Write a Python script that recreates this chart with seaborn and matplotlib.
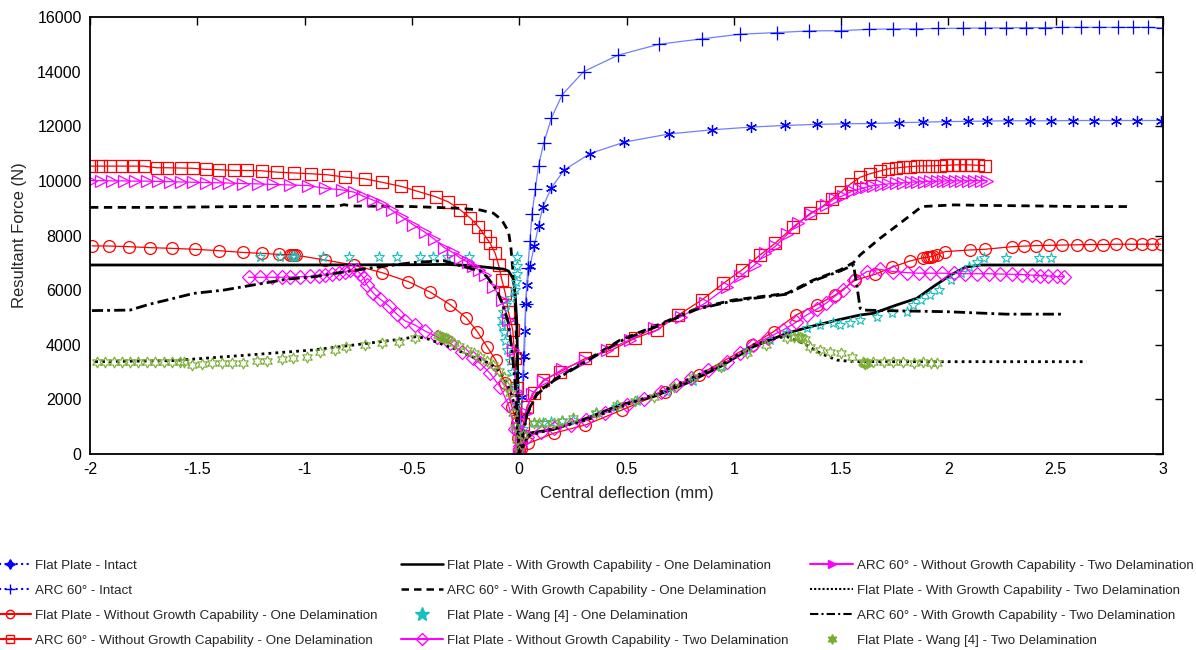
import numpy as np
import pandas as pd
import matplotlib
matplotlib.use("Agg")
import matplotlib.pyplot as plt
from matplotlib.lines import Line2D
import seaborn as sns

# ---------------- data ----------------
flat_intact_x = [0, 0.005, 0.01, 0.015, 0.02, 0.024, 0.028, 0.031, 0.036, 0.051, 0.07, 0.09, 0.11, 0.15, 0.21, 0.33, 0.49,
                 0.7, 0.9, 1.08, 1.24, 1.39, 1.52, 1.64, 1.77, 1.88, 1.99, 2.09, 2.18, 2.28, 2.38, 2.48, 2.58, 2.68, 2.78, 2.88, 2.99]
flat_intact_y = [0, 700, 1400, 2100, 2900, 3600, 4500, 5500, 6200, 6900, 7600, 8350, 9050, 9750, 10400, 11000, 11420,
                 11720, 11870, 11970, 12030, 12070, 12090, 12100, 12130, 12150, 12170, 12180, 12190, 12200, 12200, 12200,
                 12210, 12210, 12210, 12210, 12210]

arc_intact_x = [0, 0.01, 0.02, 0.03, 0.04, 0.05, 0.06, 0.075, 0.09, 0.115, 0.15, 0.2, 0.3, 0.46, 0.65, 0.85, 1.03, 1.2,
                1.35, 1.5, 1.63, 1.74, 1.85, 1.95, 2.07, 2.17, 2.27, 2.36, 2.45, 2.53, 2.62, 2.7, 2.79, 2.86, 2.93, 3.0]
arc_intact_y = [0, 1500, 3500, 5500, 6800, 7800, 8800, 9700, 10550, 11400, 12300, 13150, 14000, 14600, 15000, 15200,
                15370, 15430, 15490, 15500, 15550, 15560, 15570, 15580, 15590, 15600, 15600, 15610, 15610, 15620, 15620,
                15620, 15620, 15620, 15620, 15600]

flat_wog_one_x = [-1.99, -1.91, -1.816, -1.72, -1.62, -1.51, -1.40, -1.287, -1.2, -1.12, -1.07, -1.06, -1.05, -1.04,
                  -0.904, -0.772, -0.64, -0.516, -0.415, -0.322, -0.246, -0.195, -0.15, -0.11, -0.065, -0.034, -0.011,
                  -0.005, 0,
                  0.01, 0.043, 0.16, 0.308, 0.478, 0.68, 0.836, 1.084, 1.185, 1.29, 1.387, 1.473, 1.566, 1.659, 1.737,
                  1.822, 1.88, 1.9, 1.91, 1.92, 1.93, 1.945, 1.985, 2.1, 2.17, 2.296, 2.35, 2.41, 2.47, 2.53, 2.6, 2.66,
                  2.72, 2.78, 2.85, 2.9, 2.95, 2.99]
flat_wog_one_y = [7620, 7615, 7590, 7555, 7530, 7495, 7445, 7380, 7345, 7310, 7295, 7290, 7285, 7280, 7100, 6920, 6640,
                  6310, 5930, 5470, 4980, 4480, 3930, 3440, 2590, 1730, 1120, 600, 0,
                  200, 390, 760, 1060, 1610, 2280, 2890, 3990, 4480, 5090, 5460, 5820, 6370, 6580, 6840, 7070, 7180,
                  7200, 7215, 7225, 7240, 7300, 7410, 7470, 7495, 7590, 7610, 7630, 7640, 7650, 7660, 7670, 7670, 7680,
                  7680, 7680, 7680, 7680]

arc_wog_one_x = [-1.995, -1.95, -1.905, -1.85, -1.8, -1.75, -1.69, -1.64, -1.575, -1.52, -1.46, -1.40, -1.33, -1.27,
                 -1.2, -1.13, -1.05, -0.97, -0.89, -0.81, -0.72, -0.64, -0.55, -0.47, -0.39, -0.33, -0.275, -0.228,
                 -0.19, -0.158, -0.135, -0.112, -0.096, -0.081, -0.065, -0.05, -0.03, -0.02, -0.012, -0.006, 0,
                 0.01, 0.02, 0.036, 0.067, 0.113, 0.191, 0.308, 0.432, 0.54, 0.642, 0.742, 0.851, 0.952, 1.038, 1.123,
                 1.193, 1.278, 1.356, 1.41, 1.457, 1.5, 1.546, 1.59, 1.635, 1.68, 1.72, 1.755, 1.79, 1.82, 1.855, 1.89,
                 1.925, 1.96, 1.99, 2.02, 2.05, 2.08, 2.11, 2.14, 2.17]
arc_wog_one_y = [10540, 10540, 10540, 10540, 10540, 10540, 10480, 10480, 10470, 10460, 10420, 10410, 10380, 10380,
                 10370, 10320, 10290, 10260, 10220, 10135, 10075, 9950, 9800, 9610, 9420, 9230, 8940, 8640, 8320, 7970,
                 7710, 7350, 6920, 6380, 5890, 5200, 4540, 3500, 2400, 1200, 0,
                 600, 1100, 1730, 2220, 2710, 3010, 3500, 3810, 4240, 4540, 5090, 5640, 6250, 6740, 7290, 7715, 8320,
                 8810, 9040, 9340, 9600, 9900, 10136, 10260, 10360, 10440, 10470, 10500, 10520, 10540, 10550, 10550,
                 10560, 10570, 10580, 10590, 10590, 10580, 10570, 10560]

arc_wog_two_x = [-1.995, -1.95, -1.896, -1.843, -1.789, -1.736, -1.682, -1.629, -1.575, -1.521, -1.459, -1.405, -1.352,
                 -1.289, -1.218, -1.146, -1.066, -0.986, -0.905, -0.825, -0.771, -0.727, -0.682, -0.637, -0.593, -0.548,
                 -0.495, -0.441, -0.396, -0.35, -0.31, -0.275, -0.24, -0.213, -0.185, -0.158, -0.12, -0.081, -0.05,
                 -0.03, -0.015, -0.005, 0,
                 0.01, 0.03, 0.06, 0.113, 0.2, 0.308, 0.41, 0.516, 0.63, 0.755, 0.866, 0.97, 1.03, 1.097, 1.147, 1.193,
                 1.25, 1.3, 1.36, 1.43, 1.47, 1.51, 1.55, 1.585, 1.617, 1.65, 1.685, 1.72, 1.755, 1.79, 1.825, 1.855,
                 1.885, 1.915, 1.945, 1.975, 2.0, 2.03, 2.06, 2.09, 2.12, 2.15, 2.18]
arc_wog_two_y = [10010, 10010, 10000, 10000, 9990, 9990, 9980, 9970, 9960, 9950, 9940, 9930, 9920, 9900, 9890, 9870,
                 9850, 9830, 9730, 9670, 9590, 9440, 9300, 9150, 8920, 8690, 8400, 8130, 7870, 7560, 7380, 7180, 7020,
                 6870, 6720, 6560, 6130, 5640, 4900, 3800, 2300, 1000, 0,
                 500, 1500, 2200, 2660, 3100, 3440, 3820, 4180, 4620, 5030, 5520, 6130, 6500, 6920, 7350, 7600, 8050,
                 8440, 8800, 9120, 9350, 9460, 9620, 9700, 9770, 9830, 9860, 9890, 9910, 9930, 9950, 9960, 9970, 9980,
                 9990, 9990, 10000, 10000, 10000, 10000, 10010, 10010, 10010]

flat_wg_one_x = [-2.0, -1.0, -0.5, -0.337, -0.25, -0.18, -0.12, -0.073, -0.05, -0.042, -0.03, -0.027, -0.019, -0.011,
                 -0.005, 0,
                 0.05, 0.16, 0.315, 0.47, 0.626, 0.78, 0.937, 1.092, 1.247, 1.356, 1.48, 1.589, 1.65, 1.76, 1.853,
                 1.93, 2.01, 2.08, 2.148, 2.5, 3.0]
flat_wg_one_y = [6920, 6920, 6930, 6940, 6910, 6860, 6810, 6770, 6700, 6600, 6450, 6370, 5880, 4790, 2200, 0,
                 770, 900, 1310, 1800, 2100, 2590, 3200, 3930, 4420, 4660, 4900, 5090, 5150, 5460, 5700, 6130, 6550,
                 6840, 6920, 6920, 6920]

arc_wg_one_x = [-2.0, -1.655, -1.3, -0.85, -0.816, -0.78, -0.5, -0.29, -0.182, -0.12, -0.081, -0.05, -0.039, -0.027,
                -0.019, -0.014, -0.008, 0,
                0.036, 0.082, 0.16, 0.315, 0.47, 0.626, 0.828, 0.999, 1.123, 1.247, 1.371, 1.496, 1.558, 1.589, 1.682,
                1.775, 1.876, 2.024, 2.2, 2.428, 2.6, 2.832]
arc_wg_one_y = [9030, 9030, 9060, 9070, 9130, 9080, 9060, 9000, 8935, 8815, 8570, 8140, 7590, 6490, 5640, 4420, 2600, 0,
                1490, 2220, 2710, 3440, 4170, 4660, 5330, 5640, 5760, 5880, 6370, 6740, 7010, 7290, 7900, 8450, 9060,
                9120, 9100, 9080, 9060, 9060]

wang_one_x = [-1.21, -1.114, -1.06, -1.05, -1.044, -0.915, -0.791, -0.651, -0.57, -0.461, -0.40, -0.337, -0.236,
              -0.012, -0.01, -0.012, -0.015, -0.02, -0.04, -0.06, -0.075, -0.08, -0.078, -0.072, -0.065, -0.055, -0.045,
              -0.035, -0.025, -0.015, -0.005,
              0.02, 0.067, 0.11, 0.15, 0.2, 0.25, 0.36, 0.45, 0.55, 0.69, 0.81, 0.94, 1.06, 1.17, 1.25, 1.34, 1.4,
              1.46, 1.496, 1.54, 1.589, 1.667, 1.737, 1.807, 1.837, 1.87, 1.915, 1.954, 2.01, 2.06, 2.094, 2.133,
              2.164, 2.27, 2.42, 2.48]
wang_one_y = [7220, 7220, 7230, 7220, 7220, 7220, 7220, 7220, 7220, 7220, 7220, 7220, 7220,
              7200, 6900, 6600, 6300, 6000, 5700, 5450, 5200, 4950, 4700, 4450, 4150, 3800, 3400, 3000, 2500, 1800, 900,
              900, 1120, 1150, 1180, 1200, 1230, 1490, 1720, 1950, 2280, 2690, 3200, 3800, 4180, 4420, 4600, 4720,
              4780, 4720, 4780, 4900, 5030, 5150, 5210, 5460, 5640, 5820, 6000, 6370, 6610, 6860, 7040, 7160, 7160,
              7160, 7160]

flat_wog_two_x = [-1.261, -1.207, -1.152, -1.106, -1.067, -1.02, -0.974, -0.935, -0.904, -0.873, -0.842, -0.811,
                  -0.788, -0.756, -0.741, -0.725, -0.71, -0.679, -0.648, -0.609, -0.57, -0.531, -0.485, -0.438, -0.384,
                  -0.322, -0.267, -0.213, -0.182, -0.135, -0.089, -0.05, -0.02, 0,
                  0.005, 0.036, 0.1, 0.16, 0.24, 0.31, 0.4, 0.5, 0.58, 0.66, 0.73, 0.8, 0.88, 0.968, 1.03, 1.09, 1.16,
                  1.23, 1.29, 1.34, 1.39, 1.43, 1.47, 1.51, 1.558, 1.62, 1.682, 1.744, 1.807, 1.861, 1.915, 1.97,
                  2.024, 2.078, 2.133, 2.187, 2.241, 2.296, 2.342, 2.389, 2.428, 2.466, 2.505, 2.537]
flat_wog_two_y = [6470, 6470, 6470, 6470, 6480, 6490, 6500, 6530, 6560, 6600, 6640, 6680, 6720, 6740, 6600, 6450, 6190,
                  5880, 5670, 5430, 5120, 4870, 4720, 4500, 4300, 4050, 3750, 3500, 3320, 2950, 2460, 1800, 900, 0,
                  300, 640, 800, 940, 1080, 1230, 1500, 1800, 2030, 2280, 2520, 2780, 3060, 3380, 3680, 3990, 4260,
                  4540, 4820, 5090, 5320, 5520, 5770, 6000, 6370, 6680, 6760, 6680, 6640, 6620, 6620, 6620, 6610, 6600,
                  6600, 6600, 6590, 6580, 6570, 6550, 6530, 6520, 6500, 6490]

flat_wg_two_x = [-1.976, -1.611, -1.269, -0.958, -0.71, -0.648, -0.555, -0.477, -0.42, -0.37, -0.3, -0.26, -0.2,
                 -0.135, -0.09, -0.057, -0.042, -0.019, -0.005, 0,
                 0.036, 0.16, 0.31, 0.5, 0.66, 0.8, 0.968, 1.09, 1.2, 1.247, 1.325, 1.403, 1.48, 1.558, 1.8, 2.2,
                 2.645]
flat_wg_two_y = [3380, 3420, 3620, 3810, 4050, 4110, 4200, 4300, 4200, 4050, 3850, 3700, 3500, 3320, 3000, 2590, 2300,
                 1730, 600, 0,
                 640, 940, 1230, 1800, 2280, 2780, 3380, 3990, 4250, 4300, 4050, 3690, 3440, 3380, 3380, 3380, 3380]

arc_wg_two_x = [-1.991, -1.813, -1.72, -1.64, -1.518, -1.378, -1.238, -1.083, -0.958, -0.803, -0.648, -0.493,
                -0.353, -0.26, -0.18, -0.15, -0.104, -0.073, -0.05, -0.034, -0.019, -0.008, 0,
                0.036, 0.082, 0.16, 0.315, 0.47, 0.626, 0.828, 0.999, 1.123, 1.247, 1.371, 1.496, 1.558, 1.574, 1.589,
                1.605, 1.7, 1.85, 1.993, 2.27, 2.537]
arc_wg_two_y = [5250, 5270, 5490, 5640, 5880, 6000, 6190, 6400, 6490, 6680, 6860, 7010, 7080, 6860, 6700, 6490, 6000,
                5390, 4790, 3810, 2590, 1300, 0,
                1450, 2180, 2680, 3400, 4130, 4620, 5300, 5610, 5730, 5850, 6340, 6700, 6920, 6130, 5330, 5270, 5250,
                5230, 5210, 5120, 5120]

wang_two_x = [-1.968, -1.929, -1.89, -1.851, -1.812, -1.774, -1.735, -1.696, -1.657, -1.618, -1.579, -1.564, -1.525,
              -1.478, -1.432, -1.385, -1.339, -1.285, -1.222, -1.176, -1.106, -1.052, -0.99, -0.927, -0.857, -0.808,
              -0.718, -0.64, -0.562, -0.485, -0.38, -0.37, -0.36, -0.35, -0.34, -0.33, -0.306, -0.28, -0.244, -0.21,
              -0.182, -0.15, -0.12, -0.095, -0.073, -0.055, -0.042, -0.027, -0.018, -0.01, 0,
              0.02, 0.067, 0.09, 0.12, 0.16, 0.2, 0.25, 0.36, 0.455, 0.54, 0.63, 0.72, 0.81, 0.94, 1.06, 1.15, 1.25,
              1.28, 1.3, 1.31, 1.32, 1.33, 1.356, 1.4, 1.45, 1.5, 1.55, 1.6, 1.605, 1.61, 1.62, 1.65, 1.7, 1.74,
              1.79, 1.84, 1.88, 1.92, 1.946]
wang_two_y = [3380, 3380, 3380, 3380, 3380, 3380, 3380, 3380, 3380, 3380, 3380, 3380, 3260, 3290, 3320, 3340, 3350,
              3350, 3400, 3400, 3480, 3500, 3560, 3720, 3810, 3930, 3990, 4080, 4110, 4240, 4360, 4330, 4300, 4260,
              4230, 4200, 4050, 3950, 3810, 3680, 3560, 3420, 3260, 3050, 2830, 2500, 2220, 1490, 1000, 500, 100,
              700, 1120, 1120, 1120, 1150, 1200, 1310, 1490, 1790, 1950, 2100, 2450, 2830, 3200, 3690, 3990, 4250,
              4300, 4300, 4280, 4250, 4200, 3930, 3810, 3750, 3690, 3560, 3380, 3350, 3300, 3350, 3380, 3380, 3360,
              3380, 3350, 3370, 3350, 3350]

x_ticks = [-2, -1.5, -1, -0.5, 0, 0.5, 1, 1.5, 2, 2.5, 3]
x_tick_labels = ["-2", "-1.5", "-1", "-0.5", "0", "0.5", "1", "1.5", "2", "2.5", "3"]
y_ticks = [0, 2000, 4000, 6000, 8000, 10000, 12000, 14000, 16000]

labels = [
    "Flat Plate - Intact",
    "ARC 60\u00b0 - Intact",
    "Flat Plate - Without Growth Capability - One Delamination",
    "ARC 60\u00b0 - Without Growth Capability - One Delamination",
    "Flat Plate - With Growth Capability - One Delamination",
    "ARC 60\u00b0 - With Growth Capability - One Delamination",
    "Flat Plate - Wang [4] - One Delamination",
    "Flat Plate - Without Growth Capability - Two Delamination",
    "ARC 60\u00b0 - Without Growth Capability - Two Delamination",
    "Flat Plate - With Growth Capability - Two Delamination",
    "ARC 60\u00b0 - With Growth Capability - Two Delamination",
    "Flat Plate - Wang [4] - Two Delamination",
]

# ---------------- style ----------------
sns.set_style("white")
plt.rcParams["font.family"] = ["Liberation Sans", "DejaVu Sans"]

BLUE = "#0000ff"
BLUE_LINE = "#6f7fff"
RED = "#ff0000"
MAG = "#ff00ff"
CYAN = "#18bfbf"
GREEN = "#77ac30"
HEX = (6, 1, 0)

fig = plt.figure(figsize=(11.96, 6.5), dpi=100)
ax = fig.add_axes([90 / 1196, 1 - 454 / 650, (1163 - 90) / 1196, (454 - 17) / 650])

specs = [
    (flat_intact_x, flat_intact_y, dict(color=BLUE_LINE, lw=0.9, ls="-", marker=(6, 2, 0), ms=8, mec=BLUE, mew=0.9)),
    (arc_intact_x, arc_intact_y, dict(color=BLUE_LINE, lw=0.9, ls="-", marker="+", ms=10, mec=BLUE, mew=0.9)),
    (flat_wog_one_x, flat_wog_one_y, dict(color=RED, lw=0.9, ls="-", marker="o", ms=8.5, mfc="none", mec=RED, mew=0.9)),
    (arc_wog_one_x, arc_wog_one_y, dict(color=RED, lw=0.9, ls="-", marker="s", ms=8.5, mfc="none", mec=RED, mew=0.9)),
    (flat_wg_one_x, flat_wg_one_y, dict(color="black", lw=2.0, ls="-")),
    (arc_wg_one_x, arc_wg_one_y, dict(color="black", lw=2.0, ls=(0, (3, 2)))),
    (wang_one_x, wang_one_y, dict(color=CYAN, ls="none", marker="*", ms=8, mfc="none", mec=CYAN, mew=0.8)),
    (flat_wog_two_x, flat_wog_two_y, dict(color=MAG, lw=0.9, ls="-", marker="D", ms=7.5, mfc="none", mec=MAG, mew=0.9)),
    (arc_wog_two_x, arc_wog_two_y, dict(color=MAG, lw=0.9, ls="-", marker=">", ms=8.5, mfc="none", mec=MAG, mew=0.9)),
    (flat_wg_two_x, flat_wg_two_y, dict(color="black", lw=2.0, ls=(0, (1, 1.5)))),
    (arc_wg_two_x, arc_wg_two_y, dict(color="black", lw=2.0, ls=(0, (4, 1.5, 1, 1.5)))),
    (wang_two_x, wang_two_y, dict(color=GREEN, ls="none", marker=HEX, ms=8, mfc="none", mec=GREEN, mew=0.8)),
]

for xs, ys, kw in specs:
    df = pd.DataFrame({"x": xs, "y": ys})
    sns.lineplot(data=df, x="x", y="y", sort=False, estimator=None, ax=ax, legend=False, **kw)

ax.set_xlim(-2, 3)
ax.set_ylim(0, 16000)
ax.set_xticks(x_ticks)
ax.set_xticklabels(x_tick_labels)
ax.set_yticks(y_ticks)
ax.tick_params(direction="in", top=True, right=True, length=6, width=1, labelsize=11.5, colors="black", pad=6)
for s in ax.spines.values():
    s.set_color("black")
    s.set_linewidth(1.3)
ax.set_xlabel("Central deflection (mm)", fontsize=12, labelpad=6)
ax.set_ylabel("Resultant Force (N)", fontsize=12, labelpad=7)

# ---------------- legend ----------------
handles = [
    Line2D([], [], color=BLUE, ls=":", lw=1.5, marker=(4, 1, 0), ms=7, mew=1),
    Line2D([], [], color=BLUE, ls=":", lw=1.5, marker="+", ms=7, mew=1),
    Line2D([], [], color=RED, ls="-", lw=1.5, marker="o", ms=6, mfc="none", mew=1),
    Line2D([], [], color=RED, ls="-", lw=1.5, marker="s", ms=6, mfc="none", mew=1),
    Line2D([], [], color="black", ls="-", lw=1.8),
    Line2D([], [], color="black", ls=(0, (3, 2)), lw=1.8),
    Line2D([], [], color=CYAN, ls="none", marker="*", ms=10),
    Line2D([], [], color=MAG, ls="-", lw=1.5, marker="D", ms=6, mfc="none", mew=1),
    Line2D([], [], color=MAG, ls="-", lw=1.5, marker=">", ms=6, mew=1),
    Line2D([], [], color="black", ls=(0, (1, 1)), lw=1.5),
    Line2D([], [], color="black", ls=(0, (4, 1.5, 1, 1.5)), lw=1.5),
    Line2D([], [], color=GREEN, ls="none", marker=HEX, ms=7),
]

legend_font = {"family": ["Liberation Sans", "DejaVu Sans"], "size": 9.6}
col_x = [-0.015, 0.3294, 0.672]
for c in range(3):
    fig.legend(handles[4 * c:4 * c + 4], labels[4 * c:4 * c + 4], loc="upper left",
               bbox_to_anchor=(col_x[c], 0.1495), frameon=False, prop=legend_font,
               handlelength=3.2, handletextpad=0.3, labelspacing=0.95, borderpad=0.0)

fig.savefig("out.png", dpi=100)
